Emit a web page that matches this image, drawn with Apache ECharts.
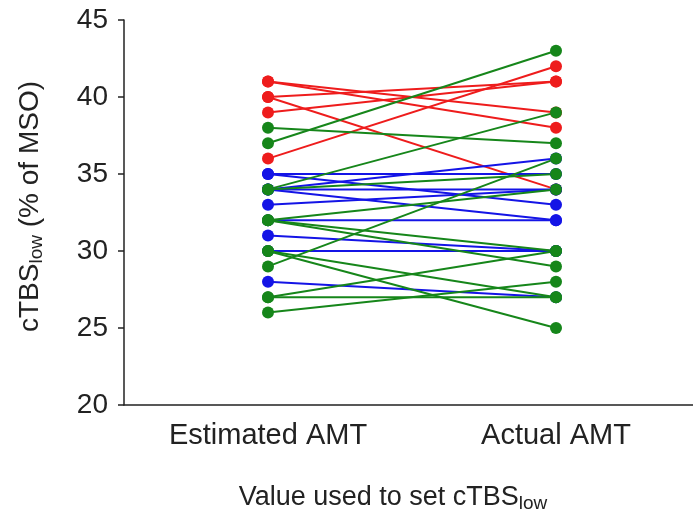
<!DOCTYPE html>
<html>
<head>
    <meta charset="UTF-8">
    <title>cTBS low</title>
    <script src="https://cdn.jsdelivr.net/npm/echarts@6/dist/echarts.min.js"></script>
    <style>
        html, body { margin: 0; padding: 0; background: #fff; }
        #chart { width: 693px; height: 513px; }
    </style>
</head>
<body>
    <div id="chart"></div>
    <script>
        // x categories
        var categories = ['Estimated AMT', 'Actual AMT'];
        var yTicks = [20, 25, 30, 35, 40, 45];

        // one entry per subject: estimated value, actual value
        var redEstimated   = [41, 41, 40, 40, 39, 36];
        var redActual      = [39, 38, 41, 34, 41, 42];
        var blueEstimated  = [35, 35, 34, 34, 34, 33, 32, 31, 30, 28];
        var blueActual     = [35, 33, 36, 34, 32, 34, 32, 30, 30, 27];
        var greenEstimated = [38, 37, 34, 34, 32, 32, 32, 30, 30, 29, 27, 27, 26];
        var greenActual    = [37, 43, 39, 35, 34, 30, 29, 27, 25, 36, 30, 27, 28];

        var groups = [
            { est: redEstimated, act: redActual, color: '#ee1c1c' },
            { est: blueEstimated, act: blueActual, color: '#1414e6' },
            { est: greenEstimated, act: greenActual, color: '#16861a' }
        ];

        var series = [];
        groups.forEach(function (g) {
            for (var i = 0; i < g.est.length; i++) {
                series.push({
                    type: 'line',
                    data: [g.est[i], g.act[i]],
                    symbol: 'circle',
                    symbolSize: 12,
                    color: g.color,
                    lineStyle: { width: 2, color: g.color },
                    itemStyle: { color: g.color },
                    animation: false,
                    silent: true
                });
            }
        });

        var chart = echarts.init(document.getElementById('chart'), null, {renderer: 'canvas'});
        chart.setOption({
            backgroundColor: '#fff',
            grid: { left: 124, top: 20, right: -7, bottom: 108, containLabel: false, outerBoundsMode: 'none' },
            xAxis: {
                type: 'category',
                data: categories,
                boundaryGap: true,
                axisLine: { lineStyle: { color: '#222', width: 1.5 } },
                axisTick: { alignWithLabel: true, length: 6, lineStyle: { color: '#222', width: 1.5 } },
                axisLabel: { color: '#222', fontSize: 29, fontFamily: 'Liberation Sans', margin: 16 },
                name: '{a|Value used to set cTBS}{b|low}',
                nameLocation: 'middle',
                nameGap: 77,
                nameTextStyle: {
                    padding: [0, 38, 0, 0],
                    rich: {
                        a: { fontSize: 27, color: '#222', fontFamily: 'Liberation Sans' },
                        b: { fontSize: 19, color: '#222', fontFamily: 'Liberation Sans', padding: [12, 0, 0, 0] }
                    }
                }
            },
            yAxis: {
                type: 'value',
                min: yTicks[0],
                max: yTicks[yTicks.length - 1],
                interval: 5,
                splitLine: { show: false },
                axisLine: { show: true, lineStyle: { color: '#222', width: 1.5 } },
                axisTick: { show: true, length: 6, lineStyle: { color: '#222', width: 1.5 } },
                axisLabel: { color: '#222', fontSize: 28, fontFamily: 'Liberation Sans', margin: 16 },
                name: '{a|cTBS}{b|low}{a| (% of MSO)}',
                nameLocation: 'middle',
                nameRotate: 90,
                nameGap: 78,
                nameTextStyle: {
                    padding: [0, 0, 0, 12],
                    rich: {
                        a: { fontSize: 28, color: '#222', fontFamily: 'Liberation Sans' },
                        b: { fontSize: 19, color: '#222', fontFamily: 'Liberation Sans', padding: [12, 0, 0, 0] }
                    }
                }
            },
            series: series
        });
    </script>
</body>
</html>
